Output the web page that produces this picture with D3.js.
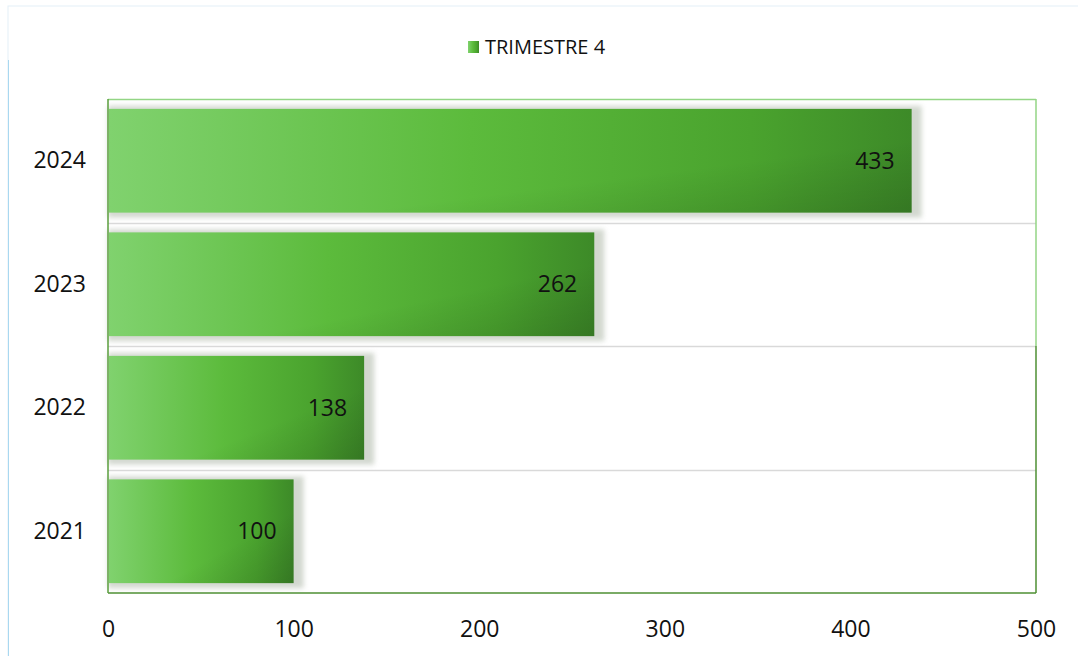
<!DOCTYPE html>
<html>
<head>
<meta charset="utf-8">
<script src="https://cdn.jsdelivr.net/npm/d3@7"></script>
<style>
  body { margin: 0; background: #fff; }
  text { font-family: "Open Sans", "Liberation Sans", sans-serif; fill: #111; }
</style>
</head>
<body>
<div id="wrapper"></div>
<script>
// data
const years = ['2021', '2022', '2023', '2024'];
const values = [100, 138, 262, 433];
const xTicks = [0, 100, 200, 300, 400, 500];
const seriesName = 'TRIMESTRE 4';

const data = years.map((y, i) => ({ year: y, value: values[i] }));

// dimensions
let dimensions = {
    width: 1078,
    height: 656,
    margin: { top: 99, right: 42, bottom: 63, left: 108 },
};
dimensions.boundedWidth = dimensions.width - dimensions.margin.left - dimensions.margin.right;
dimensions.boundedHeight = dimensions.height - dimensions.margin.top - dimensions.margin.bottom;

const wrapper = d3.select('#wrapper')
    .append('svg')
    .attr('width', dimensions.width)
    .attr('height', dimensions.height);

const defs = wrapper.append('defs');

const grad = defs.append('linearGradient')
    .attr('id', 'barFill')
    .attr('x1', '0%').attr('y1', '0%')
    .attr('x2', '100%').attr('y2', '0%');
grad.append('stop').attr('offset', '0%').attr('stop-color', '#80d26e');
grad.append('stop').attr('offset', '45%').attr('stop-color', '#5cbb3c');
grad.append('stop').attr('offset', '80%').attr('stop-color', '#4aa32e');
grad.append('stop').attr('offset', '100%').attr('stop-color', '#3d8a28');

// darkening toward the lower right corner
const shade = defs.append('linearGradient')
    .attr('id', 'barShade')
    .attr('x1', '0%').attr('y1', '0%')
    .attr('x2', '100%').attr('y2', '100%');
shade.append('stop').attr('offset', '0%').attr('stop-color', '#000').attr('stop-opacity', 0);
shade.append('stop').attr('offset', '65%').attr('stop-color', '#000').attr('stop-opacity', 0);
shade.append('stop').attr('offset', '100%').attr('stop-color', '#000').attr('stop-opacity', 0.14);

const blur = defs.append('filter')
    .attr('id', 'shadowBlur')
    .attr('x', '-10%').attr('y', '-20%')
    .attr('width', '120%').attr('height', '140%');
blur.append('feGaussianBlur').attr('stdDeviation', 2.5);

// outer chart frame
wrapper.append('rect')
    .attr('x', 8).attr('y', 6)
    .attr('width', dimensions.width - 4).attr('height', dimensions.height)
    .attr('fill', 'none')
    .attr('stroke', '#e3f0f8');
wrapper.append('line')
    .attr('x1', 8.5).attr('x2', 8.5)
    .attr('y1', 60).attr('y2', dimensions.height)
    .attr('stroke', '#a9d8f0');

const bounds = wrapper.append('g')
    .attr('transform', `translate(${dimensions.margin.left}, ${dimensions.margin.top})`);

// scales
const x = d3.scaleLinear()
    .domain([0, 500])
    .range([0, dimensions.boundedWidth]);

const y = d3.scaleBand()
    .domain(years.slice().reverse())
    .range([0, dimensions.boundedHeight])
    .paddingInner(0.16)
    .paddingOuter(0.08);

// gridlines between categories
bounds.selectAll('.grid')
    .data(years.slice(1))
    .join('line')
    .attr('class', 'grid')
    .attr('x1', 0)
    .attr('x2', dimensions.boundedWidth)
    .attr('y1', (d, i) => Math.round(dimensions.boundedHeight / years.length * (i + 1)) + 0.5)
    .attr('y2', (d, i) => Math.round(dimensions.boundedHeight / years.length * (i + 1)) + 0.5)
    .attr('stroke', '#d9d9d9')
    .attr('stroke-width', 1.5);

// bars: shadow then fill
bounds.selectAll('.shadow')
    .data(data)
    .join('rect')
    .attr('class', 'shadow')
    .attr('x', 0)
    .attr('y', d => y(d.year) - 3)
    .attr('width', d => x(d.value) + 10)
    .attr('height', y.bandwidth() + 8)
    .attr('fill', '#aeb8a8')
    .attr('opacity', 0.55)
    .attr('filter', 'url(#shadowBlur)');

bounds.selectAll('.bar')
    .data(data)
    .join('rect')
    .attr('class', 'bar')
    .attr('x', 1)
    .attr('y', d => y(d.year))
    .attr('width', d => x(d.value) - 1)
    .attr('height', y.bandwidth())
    .attr('fill', 'url(#barFill)');

bounds.selectAll('.barShade')
    .data(data)
    .join('rect')
    .attr('class', 'barShade')
    .attr('x', 1)
    .attr('y', d => y(d.year))
    .attr('width', d => x(d.value) - 1)
    .attr('height', y.bandwidth())
    .attr('fill', 'url(#barShade)');

// value labels
bounds.selectAll('.label')
    .data(data)
    .join('text')
    .attr('class', 'label')
    .attr('x', d => x(d.value) - 17)
    .attr('y', d => y(d.year) + y.bandwidth() / 2)
    .attr('dy', '0.35em')
    .attr('text-anchor', 'end')
    .attr('font-size', 23)
    .text(d => d.value);

// plot border: light green top/right, darker bottom/left
bounds.append('line')
    .attr('x1', 0).attr('x2', dimensions.boundedWidth)
    .attr('y1', 0.5).attr('y2', 0.5)
    .attr('stroke', '#93d585').attr('stroke-width', 1.5);
bounds.append('line')
    .attr('x1', dimensions.boundedWidth).attr('x2', dimensions.boundedWidth)
    .attr('y1', 0).attr('y2', dimensions.boundedHeight * 0.5)
    .attr('stroke', '#93d585').attr('stroke-width', 1.5);
bounds.append('line')
    .attr('x1', dimensions.boundedWidth).attr('x2', dimensions.boundedWidth)
    .attr('y1', dimensions.boundedHeight * 0.5).attr('y2', dimensions.boundedHeight)
    .attr('stroke', '#4e8f33').attr('stroke-width', 1.5);
bounds.append('line')
    .attr('x1', 0).attr('x2', dimensions.boundedWidth)
    .attr('y1', dimensions.boundedHeight).attr('y2', dimensions.boundedHeight)
    .attr('stroke', '#4e8f33').attr('stroke-width', 1.5);
bounds.append('line')
    .attr('x1', 0).attr('x2', 0)
    .attr('y1', 0).attr('y2', dimensions.boundedHeight)
    .attr('stroke', '#5a9e3c').attr('stroke-width', 1.5);

// axes
const xAxis = d3.axisBottom(x).tickValues(xTicks).tickSize(0).tickPadding(28);
const xAxisGroup = bounds.append('g')
    .attr('transform', `translate(0, ${dimensions.boundedHeight})`)
    .call(xAxis);
xAxisGroup.select('.domain').remove();
xAxisGroup.selectAll('text')
    .attr('font-size', 23)
    .attr('fill', '#111')
    .style('font-family', '"Open Sans", "Liberation Sans", sans-serif');

const yAxis = d3.axisLeft(y).tickSize(0).tickPadding(22);
const yAxisGroup = bounds.append('g').call(yAxis);
yAxisGroup.select('.domain').remove();
yAxisGroup.selectAll('text')
    .attr('font-size', 23)
    .attr('fill', '#111')
    .style('font-family', '"Open Sans", "Liberation Sans", sans-serif');

// legend
const legend = wrapper.append('g')
    .attr('transform', 'translate(468, 47)');
legend.append('rect')
    .attr('x', 0).attr('y', -6)
    .attr('width', 11).attr('height', 12)
    .attr('fill', 'url(#barFill)');
legend.append('text')
    .attr('x', 17)
    .attr('dy', '0.35em')
    .attr('font-size', 20)
    .text(seriesName);
</script>
</body>
</html>
